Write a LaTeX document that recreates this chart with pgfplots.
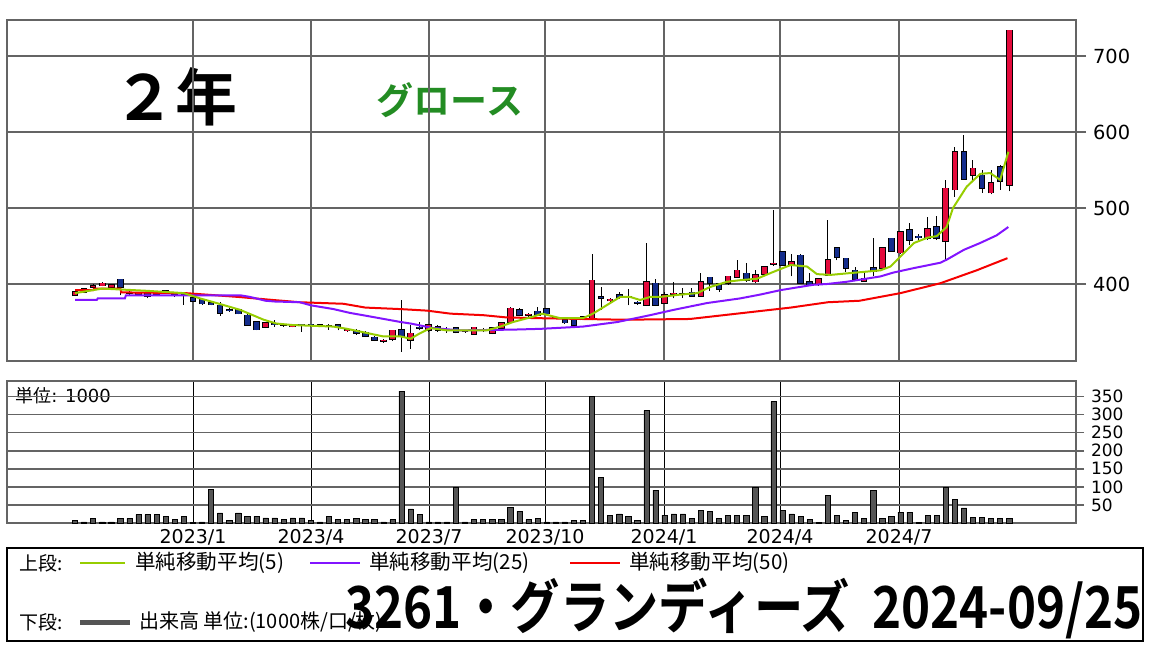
\documentclass[border=0pt]{standalone}
\usepackage{pgfplots}
\pgfplotsset{compat=1.18}
\usepackage{pgfplotstable}
\usepackage{fontspec}
\setmainfont{DejaVu Sans}
\newfontfamily\jp{Noto Sans CJK JP}
\newfontfamily\jpb{Noto Sans CJK JP Bold}
\definecolor{gridgray}{RGB}{100,100,100}
\definecolor{cred}{RGB}{228,10,60}
\definecolor{cblue}{RGB}{20,45,140}
\definecolor{maA}{RGB}{150,205,0}
\definecolor{maB}{RGB}{130,20,255}
\definecolor{maC}{RGB}{245,0,0}
\definecolor{volgray}{RGB}{85,85,85}
\definecolor{gro}{RGB}{35,140,35}

\pgfplotstableread{
i O H L C
0 385 392 384 390
1 394 395 388 389
2 396 400 392 398
3 398 403 397 401
4 396 400 395 399
5 406 407 385 396
6 389 392 385 388
7 387 390 386 389
8 388 390 381 384
9 388 390 386 387
10 389 392 388 391
11 386 388 383 385
12 386 387 373 385
13 382 384 376 377
14 380 382 373 374
15 375 376 372 373
16 372 376 358 362
17 366 369 363 365
18 366 367 360 361
19 359 361 345 346
20 350 351 339 340
21 343 350 342 349
22 348 352 344 347
23 347 349 344 346
24 344 348 343 346
25 347 348 337 346
26 347 348 344 346
27 346 347 343 345
28 344 348 340 345
29 346 348 339 344
30 339 341 337 340
31 339 341 333 335
32 336 338 330 331
33 330 331 325 326
34 325 327 323 326
35 327 340 325 339
36 340 379 311 331
37 326 346 315 335
38 343 350 339 342
39 339 347 337 346
40 344 346 337 339
41 340 343 336 339
42 342 344 335 337
43 339 340 336 338
44 334 344 333 343
45 340 342 337 339
46 335 343 334 342
47 342 350 341 349
48 350 370 348 368
49 366 368 358 359
50 359 362 357 360
51 364 370 358 359
52 367 368 360 361
53 356 357 354 355
54 353 356 348 349
55 352 353 345 346
56 353 358 352 357
57 355 440 352 405
58 383 396 366 381
59 378 382 376 380
60 386 389 380 383
61 383 394 372 384
62 376 377 373 375
63 372 454 371 403
64 401 406 371 372
65 375 390 374 386
66 387 403 381 388
67 387 395 382 387
68 389 395 383 384
69 384 415 383 403
70 409 409 391 401
71 400 400 390 393
72 401 411 399 410
73 409 432 408 418
74 414 428 403 405
75 403 419 401 412
76 413 423 410 423
77 426 497 424 427
78 442 443 424 425
79 425 440 410 429
80 438 439 400 401
81 403 415 398 399
82 399 408 398 407
83 412 484 411 432
84 448 449 431 435
85 434 434 416 421
86 418 422 404 406
87 404 415 403 407
88 421 460 411 416
89 421 448 420 448
90 460 461 443 443
91 441 469 440 469
92 471 480 451 458
93 463 466 458 461
94 460 488 458 473
95 475 489 458 460
96 456 537 432 526
97 524 580 515 574
98 574 596 538 538
99 543 563 537 552
100 543 550 520 526
101 520 550 518 533
102 554 556 524 535
103 530 734 522 734
}\candles

\pgfplotstableread{
i v
0 7
1 3
2 12
3 3
4 3
5 13
6 13
7 23
8 23
9 23
10 18
11 9
12 18
13 2
14 3
15 92
16 28
17 7
18 28
19 18
20 18
21 14
22 14
23 9
24 14
25 14
26 8
27 3
28 18
29 9
30 9
31 13
32 9
33 9
34 3
35 9
36 365
37 39
38 23
39 3
40 3
41 3
42 100
43 3
44 9
45 9
46 9
47 9
48 43
49 32
50 9
51 13
52 3
53 3
54 3
55 7
56 7
57 350
58 126
59 22
60 25
61 18
62 8
63 311
64 91
65 22
66 25
67 25
68 12
69 35
70 32
71 12
72 20
73 20
74 20
75 100
76 18
77 336
78 35
79 25
80 18
81 10
82 2
83 77
84 20
85 8
86 30
87 12
88 91
89 12
90 18
91 30
92 30
93 2
94 20
95 20
96 98
97 66
98 42
99 15
100 15
101 12
102 12
103 12
}\volume

\pgfplotstableread{
x y
0 388
3 394
8 391
12 388
13.8 381
15.6 375
18.2 366
20.8 353
22.2 348
24 346
28.5 344
30 341
32 336
34 331
35.9 331
37 328
38 335
39.2 342
41 339
43.2 339
45.4 339
46.9 344
48.3 350
50.5 357
51.5 361
53.5 355
56 355
57.1 361
58.6 372
60.1 383
61.2 383
62.3 379
63.4 383
64.5 383
66.7 386
68.6 388
70 396
71.9 403
73.3 405
75.2 407
77 416
78.9 425
80.7 423
81.8 413
83.3 412
85.1 414
87 416
88.8 418
89.9 423
91 436
92.5 454
94 461
95 463
96.1 475
96.8 500
98.3 528
99.8 545
100.9 546
102 537
102.9 574
}\maFive

\pgfplotstableread{
x y
0 379
2.4 379
2.5 381
5.5 381
5.6 385
18.3 385
19.3 383
21 378
22 377
24.8 376
26 372
28.5 367
30.3 362
32.2 358
35.9 350
37 348
39.5 342
42.4 339
48.3 340
51.3 341
56 344
59.8 350
63.4 359
66 366
69.7 375
73.3 381
75.5 386
77.8 392
81.4 399
82.9 400
85.1 403
88.8 410
90.2 415
92.5 421
95.4 428
96.1 432
98 445
99.8 454
101.6 464
102.9 475
}\maTwentyFive

\pgfplotstableread{
x y
0 392
2 392
2.1 394
5 394
5.1 389
12.2 388
18 383
21.8 379
24.8 376
29.6 374
32 369
35.9 367
38.8 365
41.4 361
45 359
47.6 356
51.3 355
60.5 353
67.8 354
71.5 359
75.2 364
78.9 369
83 376
86.5 378
91 388
95.4 401
99.4 418
102.8 434
}\maFifty

\begin{document}
\begin{tikzpicture}
\path[use as bounding box] (0,0) rectangle (575pt,-323pt);

\node[font=\jpb\fontsize{31}{31}\selectfont, anchor=center] at (87.5pt,-48.5pt) {２年};
\node[font=\jpb\fontsize{18.5}{18.5}\selectfont, text=gro, anchor=center] at (225pt,-50pt) {グロース};

\begin{axis}[
  at={(3.5pt,-10pt)}, anchor=north west, scale only axis,
  width=534.5pt, height=170.5pt,
  xmin=-7.5, xmax=110.36, ymin=298.7, ymax=747.4,
  xtick={13.01,26.02,39.03,51.82,64.94,77.73,90.85}, xticklabels={},
  ytick={400,500,600,700}, ytick pos=right, yticklabel pos=right,
  tick align=outside, major tick length=5pt,
  x tick style={draw=none}, y tick style={gridgray, line width=1pt},
  grid=major, major grid style={gridgray, line width=1pt},
  axis line style={gridgray, line width=1pt},
  /pgf/number format/assume math mode=true,
  yticklabel style={font=\fontsize{9.7}{10}\selectfont, anchor=west},
]
% wicks
\addplot[draw=none, no markers, forget plot, error bars/.cd, y dir=plus, y explicit,
  error mark=none, error bar style={draw=black, solid, line width=0.5pt}]
  table[x=i, y=L, y error expr=\thisrow{H}-\thisrow{L}] {\candles};
% body outlines
\addplot[draw=none, no markers, forget plot, error bars/.cd, y dir=plus, y explicit,
  error mark=none, error bar style={draw=black, solid, line width=3.3pt}]
  table[x=i, y expr={min(\thisrow{O},\thisrow{C})-0.8}, y error expr={abs(\thisrow{C}-\thisrow{O})+1.6}] {\candles};
% up bodies
\addplot[draw=none, no markers, forget plot, error bars/.cd, y dir=plus, y explicit,
  error mark=none, error bar style={draw=cred, solid, line width=2.3pt}]
  table[x=i, y expr={\thisrow{C}>=\thisrow{O} ? \thisrow{O} : nan}, y error expr={\thisrow{C}-\thisrow{O}}] {\candles};
% down bodies
\addplot[draw=none, no markers, forget plot, error bars/.cd, y dir=plus, y explicit,
  error mark=none, error bar style={draw=cblue, solid, line width=2.3pt}]
  table[x=i, y expr={\thisrow{C}<\thisrow{O} ? \thisrow{C} : nan}, y error expr={\thisrow{O}-\thisrow{C}}] {\candles};
% moving averages
\addplot[maC, line width=1pt, mark=none] table[x=x,y=y] {\maFifty};
\addplot[maB, line width=1pt, mark=none] table[x=x,y=y] {\maTwentyFive};
\addplot[maA, line width=1pt, mark=none] table[x=x,y=y] {\maFive};
\end{axis}

\node[anchor=west, inner sep=0pt, font=\fontsize{9}{9}\selectfont] at (7.5pt,-198pt) {{\jp 単位}: 1000};

\begin{axis}[
  at={(3.5pt,-190.5pt)}, anchor=north west, scale only axis,
  width=534.5pt, height=71pt,
  xmin=-7.5, xmax=110.36, ymin=0, ymax=393,
  xtick={13.01,26.02,39.03,51.82,64.94,77.73,90.85},
  xticklabels={2023/1,2023/4,2023/7,2023/10,2024/1,2024/4,2024/7},
  ytick={50,100,150,200,250,300,350}, ytick pos=right, yticklabel pos=right,
  tick align=outside, major tick length=4pt,
  x tick style={draw=none}, y tick style={gridgray, line width=0.8pt},
  xmajorgrids, ymajorgrids,
  x grid style={black, line width=0.5pt}, y grid style={gridgray, line width=0.8pt},
  axis line style={gridgray, line width=0.8pt},
  /pgf/number format/assume math mode=true,
  xticklabel style={font=\fontsize{9.5}{10}\selectfont, yshift=4.5pt},
  yticklabel style={font=\fontsize{8.5}{9}\selectfont, anchor=west},
]
\addplot[ybar, bar width=2.6pt, fill=volgray, draw=black, line width=0.3pt] table[x=i,y=v] {\volume};
\end{axis}

\draw[line width=1pt] (3.5pt,-274pt) rectangle (571.5pt,-320.5pt);
\node[anchor=west, font=\jp\fontsize{9.5}{9.5}\selectfont] at (6pt,-281.5pt) {上段:};
\draw[maA, line width=1pt] (40pt,-281.5pt) -- (62.5pt,-281.5pt);
\node[anchor=west, font=\jp\fontsize{10.3}{10}\selectfont] at (64pt,-281.5pt) {単純移動平均(5)};
\draw[maB, line width=1pt] (155pt,-281.5pt) -- (180pt,-281.5pt);
\node[anchor=west, font=\jp\fontsize{10.3}{10}\selectfont] at (181pt,-281.5pt) {単純移動平均(25)};
\draw[maC, line width=1pt] (285pt,-281.5pt) -- (310pt,-281.5pt);
\node[anchor=west, font=\jp\fontsize{10.3}{10}\selectfont] at (311pt,-281.5pt) {単純移動平均(50)};
\node[anchor=west, font=\jp\fontsize{9.5}{9.5}\selectfont] at (6pt,-311pt) {下段:};
\draw[volgray, line width=2.5pt] (40pt,-311pt) -- (65pt,-311pt);
\node[anchor=west, font=\jp\fontsize{10}{10}\selectfont] at (66pt,-311pt) {出来高 単位:(1000株/口/枚)};
\node[anchor=base west, inner sep=0pt, font=\jpb\fontsize{29}{29}\selectfont, xscale=0.85] at (172.5pt,-314pt) {3261・グランディーズ\ \ 2024-09/25};
\end{tikzpicture}
\end{document}
